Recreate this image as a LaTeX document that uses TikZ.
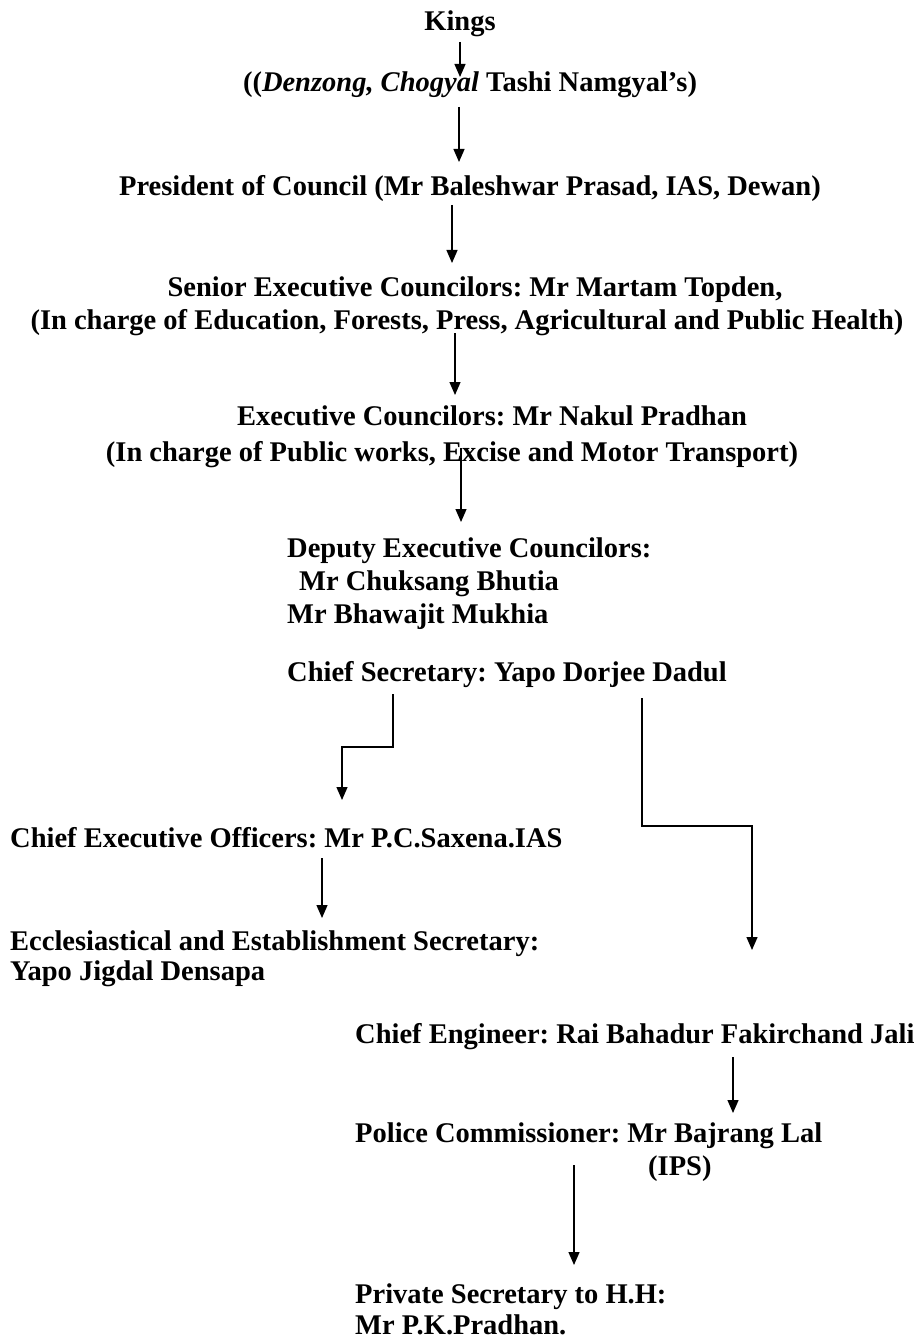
\documentclass[tikz,border=0pt]{standalone}
\usepackage{fontspec}
\setmainfont{Liberation Serif}
\usetikzlibrary{arrows.meta,positioning}

\begin{document}
\frenchspacing
\begin{tikzpicture}[
x=1pt,
y=1pt,
every node/.style={font=\fontsize{28.5}{33}\selectfont\bfseries,inner sep=0pt},
centred/.style={align=center,anchor=base},
entry/.style={align=left,anchor=base west},
arr/.style={-{Triangle[length=13pt,width=11pt]},line width=1.3pt}
]
\useasboundingbox (0,0) rectangle (922,-1340);
\node[centred] (kings) at (460,-31) {Kings};
\node[centred] (chogyal) at (470,-92) {((\textit{Denzong, Chogyal} Tashi Namgyal's)};
\node[centred] (president) at (470,-196) {President of Council (Mr Baleshwar Prasad, IAS, Dewan)};
\node[centred] (senior) at (467,-329) {\hspace*{16pt}Senior Executive Councilors: Mr Martam Topden,\\(In charge of Education, Forests, Press, Agricultural and Public Health)};
\node[centred] (executive) at (452,-461) {\hspace*{80pt}Executive Councilors: Mr Nakul Pradhan\\[3pt](In charge of Public works, Excise and Motor Transport)};
\node[entry] (deputy) at (287,-623) {Deputy Executive Councilors:\\\hspace*{12pt}Mr Chuksang Bhutia\\Mr Bhawajit Mukhia};
\node[entry] (chiefsec) at (287,-681) {Chief Secretary: Yapo Dorjee Dadul};
\node[entry] (ceo) at (10,-847) {Chief Executive Officers: Mr P.C.Saxena.IAS};
\node[entry] (eccl) at (10,-980) {Ecclesiastical and Establishment Secretary:\\[-3pt]Yapo Jigdal Densapa};
\node[entry] (engineer) at (355,-1043) {Chief Engineer: Rai Bahadur Fakirchand Jali};
\node[entry] (police) at (355,-1175) {Police Commissioner: Mr Bajrang Lal\\\hspace*{293pt}(IPS)};
\node[entry] (privsec) at (355,-1334) {Private Secretary to H.H:\\[-2pt]Mr P.K.Pradhan.};

\draw[arr] ([yshift=-11pt]kings.base) -- ([xshift=-10pt,yshift=15pt]chogyal.base);
\draw[arr] ([xshift=-11pt,yshift=-15pt]chogyal.base) -- ([xshift=-11pt,yshift=34pt]president.base);
\draw[arr] ([xshift=-18pt,yshift=-9pt]president.base) -- ([xshift=-15pt,yshift=66pt]senior.base);
\draw[arr] ([xshift=-12pt,yshift=-4pt]senior.base) -- ([xshift=3pt,yshift=66pt]executive.base);
\draw[arr] ([xshift=9pt,yshift=13pt]executive.base) -- ([xshift=174pt,yshift=101pt]deputy.base west);
\draw[arr] ([xshift=106pt,yshift=-13pt]chiefsec.base west) -- ++(0,-53) -| ([xshift=332pt,yshift=47pt]ceo.base west);
\draw[arr] ([xshift=355pt,yshift=-17pt]chiefsec.base west) -- ++(0,-128) -| ([xshift=397pt,yshift=93pt]engineer.base west);
\draw[arr] ([xshift=312pt,yshift=-11pt]ceo.base west) -- ([xshift=312pt,yshift=62pt]eccl.base west);
\draw[arr] ([xshift=378pt,yshift=-14pt]engineer.base west) -- ([xshift=378pt,yshift=62pt]police.base west);
\draw[arr] ([xshift=219pt,yshift=10pt]police.base west) -- ([xshift=219pt,yshift=69pt]privsec.base west);
\end{tikzpicture}
\end{document}
